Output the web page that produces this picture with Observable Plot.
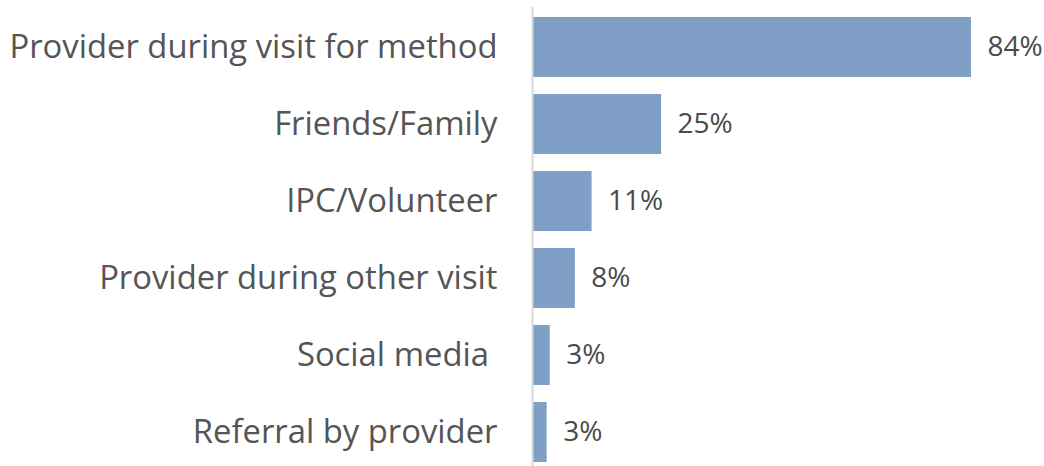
<!DOCTYPE html>
<html>
<head>
<meta charset="utf-8">
<script src="https://cdn.jsdelivr.net/npm/d3@7"></script>
<script src="https://cdn.jsdelivr.net/npm/@observablehq/plot@0.6"></script>
<style>
  html, body { margin: 0; padding: 0; background: #fff; }
  #chart svg { display: block; }
</style>
</head>
<body>
<div id="chart"></div>
<script>
const categories = [
  "Provider during visit for method",
  "Friends/Family",
  "IPC/Volunteer",
  "Provider during other visit",
  "Social media\u00a0",
  "Referral by provider"
];
const values = [84, 24.7, 11.4, 8.2, 3.4, 2.8];
const valueLabels = ["84%", "25%", "11%", "8%", "3%", "3%"];

const data = categories.map((c, i) => ({category: c, value: values[i], label: valueLabels[i]}));

const chart = Plot.plot({
  width: 1044,
  height: 466,
  marginLeft: 532,
  marginRight: 0,
  marginTop: 16,
  marginBottom: 3,
  style: {fontFamily: "'Open Sans', sans-serif", fontSize: "33px", color: "#555", background: "#fff"},
  x: {domain: [0, 84 * (512 / 439)], axis: null},
  y: {domain: categories, paddingInner: 0.216, paddingOuter: 0, label: null},
  marks: [
    Plot.barX(data, {x: "value", y: "category", fill: "#7f9fc6"}),
    Plot.ruleX([0], {stroke: "#d9d9d9", strokeWidth: 2, insetTop: -9, insetBottom: -3}),
    Plot.text(data, {x: "value", y: "category", text: "label", textAnchor: "start", dx: 16, fill: "#4a4a4a", fontSize: 28}),
    Plot.axisY({tickSize: 0, tickPadding: 35, fontSize: 32.8, fill: "#555", label: null})
  ]
});
document.getElementById("chart").appendChild(chart);
</script>
</body>
</html>
